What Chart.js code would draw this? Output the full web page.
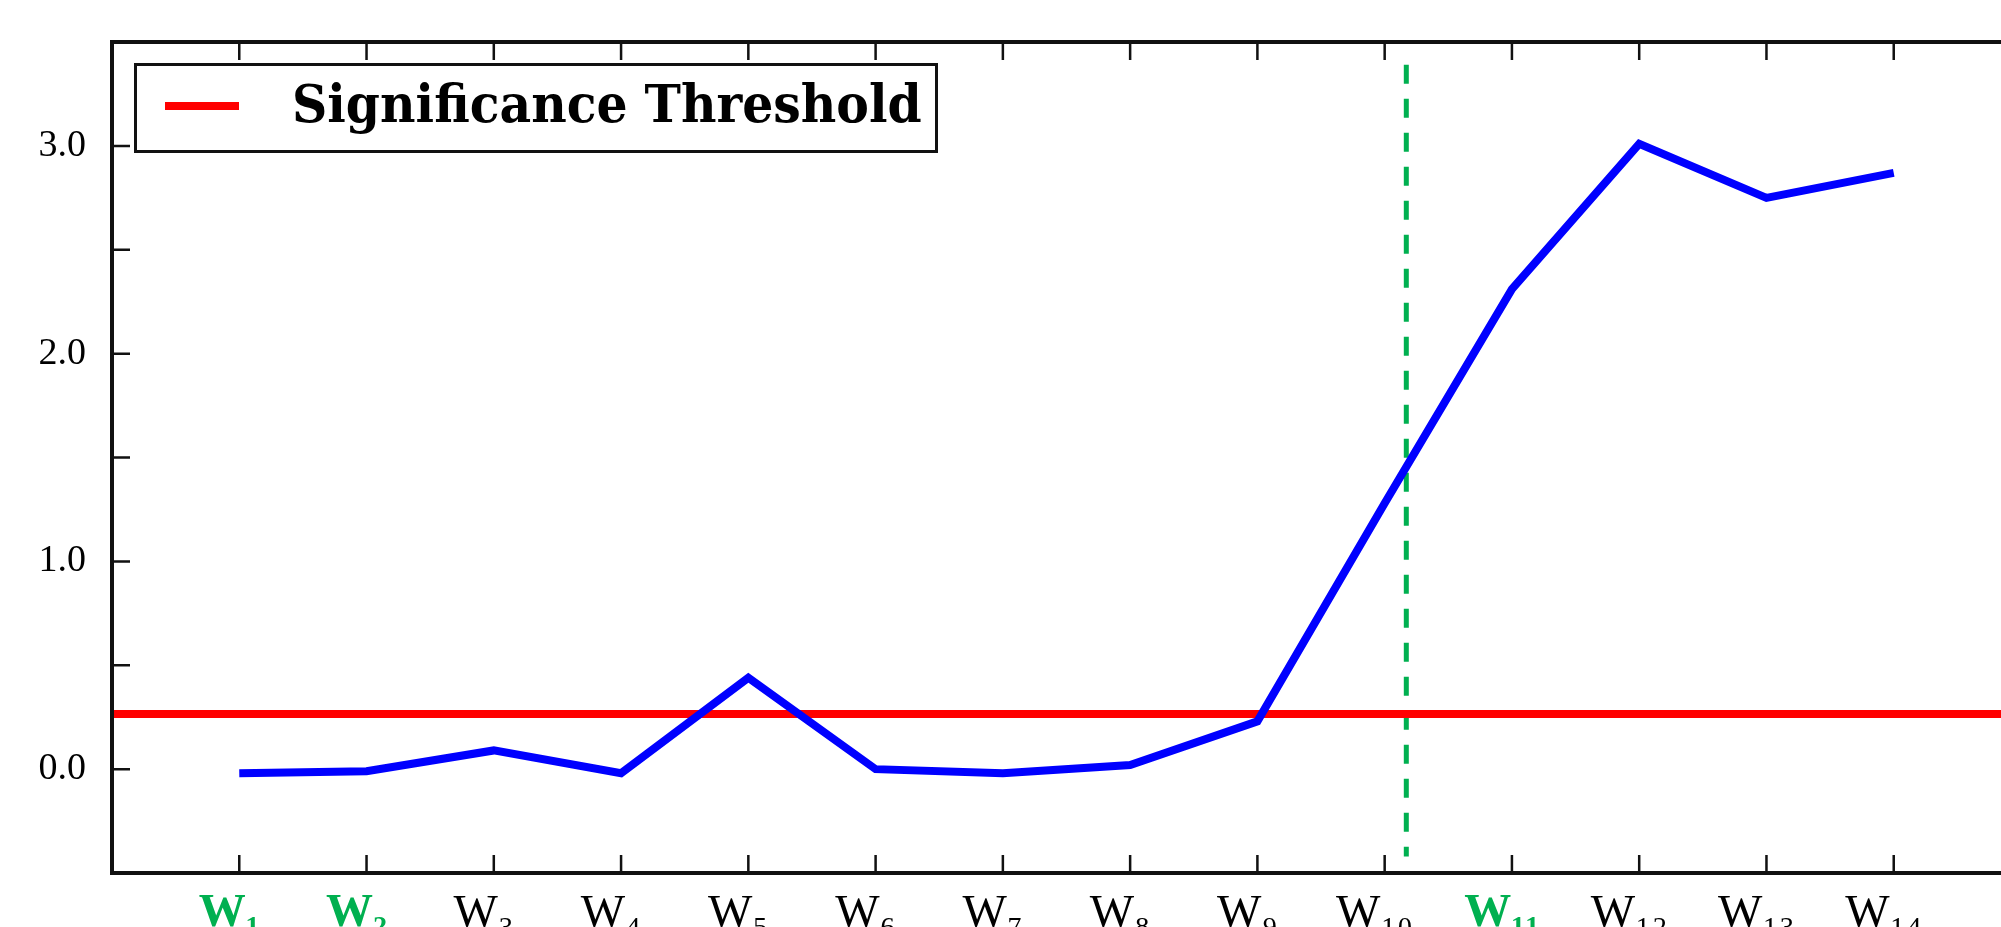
<!DOCTYPE html>
<html>
<head>
<meta charset="utf-8">
<script src="https://cdn.jsdelivr.net/npm/chart.js@4.4.0/dist/chart.umd.min.js"></script>
<style>
    html, body { margin: 0; padding: 0; overflow: hidden; background: #fff; }
    #wrap { position: relative; width: 2040px; height: 960px; }
    #legend {
        position: absolute; left: 134px; top: 63px;
        width: 798px; height: 84px;
        border: 3px solid #111; background: #fff;
    }
    #legend .swatch { position: absolute; left: 28px; top: 36px; width: 74px; height: 8px; }
    #legend .text {
        position: absolute; left: 155px; top: 12px;
        font: bold 52px/52px "DejaVu Serif", serif; color: #000;
        white-space: nowrap; transform-origin: left center; transform: scaleX(0.94);
    }
</style>
</head>
<body>
<div id="wrap">
    <canvas id="chart" width="2040" height="960"></canvas>
    <div id="legend"></div>
</div>
<script>
// weeks on the x axis, highlighted ones in green
var xLabels = ['W₁', 'W₂', 'W₃', 'W₄', 'W₅', 'W₆', 'W₇', 'W₈', 'W₉', 'W₁₀', 'W₁₁', 'W₁₂', 'W₁₃', 'W₁₄'];
var highlighted = ['W₁', 'W₂', 'W₁₁'];
var scores = [-0.02, -0.01, 0.09, -0.02, 0.44, 0.0, -0.02, 0.02, 0.23, 1.28, 2.31, 3.01, 2.75, 2.87];
var threshold = 0.265;
var changePointX = 10.17;
var changePointY = [3.39, -0.42];
var yTickLabels = ['0.0', '1.0', '2.0', '3.0'];

var xMin = 0, xMax = 15, yMin = -0.5, yMax = 3.5;
var green = '#00b050';
var axisColor = '#111';
var tickLen = 18;

function isHighlighted(c) {
    return !!(c && c.tick) && highlighted.indexOf(xLabels[c.tick.value - 1]) >= 0;
}

// matplotlib style frame with ticks pointing inwards on all four sides
var frameTicks = {
    id: 'frameTicks',
    afterDatasetsDraw: function(chart) {
        var ctx = chart.ctx;
        var a = chart.chartArea;
        var x = chart.scales.x;
        var y = chart.scales.y;
        ctx.save();
        ctx.strokeStyle = axisColor;
        ctx.lineWidth = 2.5;
        ctx.beginPath();
        x.ticks.forEach(function(t) {
            if (t.value <= xMin || t.value >= xMax) return;
            var px = x.getPixelForValue(t.value);
            ctx.moveTo(px, a.bottom);
            ctx.lineTo(px, a.bottom - tickLen);
            ctx.moveTo(px, a.top);
            ctx.lineTo(px, a.top + tickLen);
        });
        y.ticks.forEach(function(t) {
            if (t.value <= yMin || t.value >= yMax) return;
            var py = y.getPixelForValue(t.value);
            ctx.moveTo(a.left, py);
            ctx.lineTo(a.left + tickLen, py);
            ctx.moveTo(a.right, py);
            ctx.lineTo(a.right - tickLen, py);
        });
        ctx.stroke();
        ctx.lineWidth = 4;
        ctx.strokeRect(a.left, a.top, a.right - a.left, a.bottom - a.top);
        ctx.restore();
    }
};

var ctx = document.getElementById('chart').getContext('2d');
var chart = new Chart(ctx, {
    type: 'line',
    data: {
        datasets: [{
            label: 'Score',
            data: scores.map(function(v, i) { return { x: i + 1, y: v }; }),
            borderColor: '#0000ff',
            borderWidth: 8,
            pointRadius: 0,
            tension: 0
        }, {
            label: 'Significance Threshold',
            showInLegend: true,
            data: [{ x: xMin, y: threshold }, { x: xMax, y: threshold }],
            borderColor: '#ff0000',
            borderWidth: 8,
            pointRadius: 0
        }, {
            label: 'Change point',
            data: changePointY.map(function(v) { return { x: changePointX, y: v }; }),
            borderColor: green,
            borderWidth: 5,
            borderDash: [19, 15],
            pointRadius: 0
        }]
    },
    options: {
        responsive: false,
        animation: false,
        devicePixelRatio: 1,
        layout: { padding: { top: 42, right: 19, left: 0, bottom: 0 } },
        plugins: {
            legend: { display: false },
            tooltip: { enabled: false }
        },
        scales: {
            x: {
                type: 'linear',
                min: xMin,
                max: xMax,
                grid: { display: false },
                border: { display: false },
                afterFit: function(scale) { scale.height = 87; },
                ticks: {
                    stepSize: 1,
                    autoSkip: false,
                    maxRotation: 0,
                    padding: 5,
                    labelOffset: -10,
                    callback: function(value) { return xLabels[value - 1] || ''; },
                    color: function(c) { return isHighlighted(c) ? green : '#000'; },
                    font: function(c) {
                        return {
                            family: '"Liberation Serif", "DejaVu Serif", serif',
                            size: 47,
                            weight: isHighlighted(c) ? 'bold' : 'normal'
                        };
                    }
                }
            },
            y: {
                min: yMin,
                max: yMax,
                grid: { display: false },
                border: { display: false },
                afterFit: function(scale) { scale.width = 112; },
                ticks: {
                    stepSize: 0.5,
                    padding: 18,
                    color: '#000',
                    font: { family: '"Liberation Serif", serif', size: 38 },
                    callback: function(value) {
                        var s = value.toFixed(1);
                        return yTickLabels.indexOf(s) >= 0 ? s : '';
                    }
                }
            }
        }
    },
    plugins: [frameTicks]
});

// legend box built from the datasets flagged for it
var legendEl = document.getElementById('legend');
chart.data.datasets.forEach(function(d) {
    if (!d.showInLegend) return;
    var sw = document.createElement('div');
    sw.className = 'swatch';
    sw.style.background = d.borderColor;
    var tx = document.createElement('div');
    tx.className = 'text';
    tx.textContent = d.label;
    legendEl.appendChild(sw);
    legendEl.appendChild(tx);
});
</script>
</body>
</html>
